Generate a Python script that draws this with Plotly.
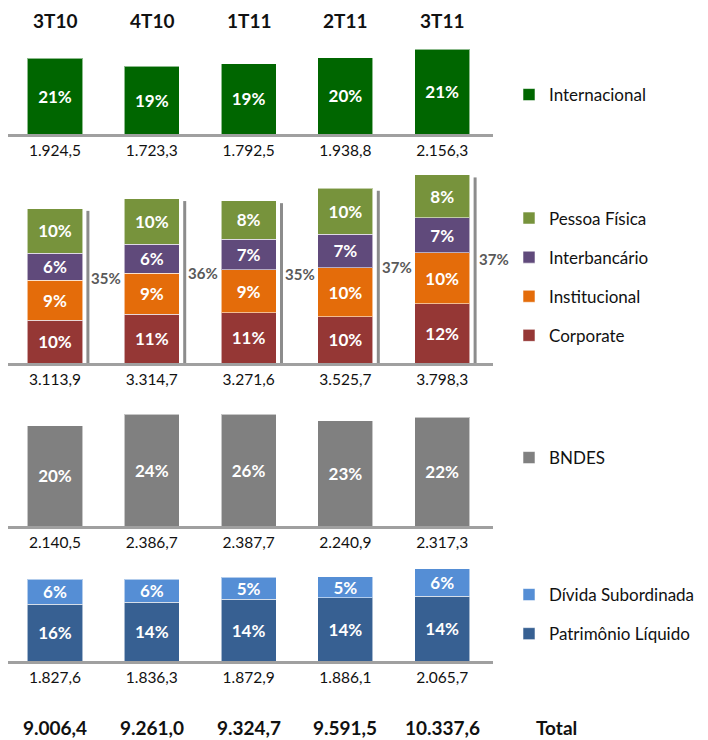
import plotly.graph_objects as go

# ---------------- data ----------------
quarters = ["3T10", "4T10", "1T11", "2T11", "3T11"]
totals = [9006.4, 9261.0, 9324.7, 9591.5, 10337.6]

internacional = [1924.5, 1723.3, 1792.5, 1938.8, 2156.3]
internacional_pct = ["21%", "19%", "19%", "20%", "21%"]

captacao_total = [3113.9, 3314.7, 3271.6, 3525.7, 3798.3]
corporate = [864.0, 980.0, 1015.0, 928.0, 1196.0]
institucional = [800.0, 831.0, 866.0, 995.0, 1027.0]
interbancario = [546.0, 584.0, 615.0, 676.0, 703.0]
pessoa_fisica = [903.9, 919.7, 775.6, 926.7, 872.3]
corporate_pct = ["10%", "11%", "11%", "10%", "12%"]
institucional_pct = ["9%", "9%", "9%", "10%", "10%"]
interbancario_pct = ["6%", "6%", "7%", "7%", "7%"]
pessoa_fisica_pct = ["10%", "10%", "8%", "10%", "8%"]
captacao_pct = ["35%", "36%", "35%", "37%", "37%"]

bndes = [2140.5, 2386.7, 2387.7, 2240.9, 2317.3]
bndes_pct = ["20%", "24%", "26%", "23%", "22%"]

patrimonio_total = [1827.6, 1836.3, 1872.9, 1886.1, 2065.7]
patrimonio_liquido = [1277.6, 1316.3, 1382.9, 1413.1, 1456.7]
divida_subordinada = [550.0, 520.0, 490.0, 473.0, 609.0]
patrimonio_liquido_pct = ["16%", "14%", "14%", "14%", "14%"]
divida_subordinada_pct = ["6%", "6%", "5%", "5%", "6%"]


def br(v):
    s = f"{v:,.1f}"
    return s.replace(",", "X").replace(".", ",").replace("X", ".")


FONT = "Lato"
W, H = 700, 732          # figure size (page adds an 8px body margin)
OFF = 8
xs = list(range(len(quarters)))


def sy(px):  # screen y pixel -> paper y
    return 1 - (px - OFF) / H


def sx(px):  # screen x pixel -> paper x
    return (px - OFF) / W


fig = go.Figure()


def bar(y, text, color, name, xa, ya, legend, rank):
    fig.add_trace(go.Bar(
        x=xs, y=y, text=text, name=name, xaxis=xa, yaxis=ya,
        marker=dict(color=color, line=dict(color="rgba(255,255,255,0.55)", width=1)),
        textposition="inside", insidetextanchor="middle", textangle=0,
        constraintext="none",
        textfont=dict(family=FONT, size=17, color="white", weight="bold"),
        legend=legend, legendgroup=name, legendrank=rank,
        hoverinfo="skip",
    ))


bar(internacional, internacional_pct, "#006600", "Internacional", "x", "y", "legend", 1)

bar(corporate, corporate_pct, "#953735", "Corporate", "x2", "y2", "legend2", 4)
bar(institucional, institucional_pct, "#E46C0A", "Institucional", "x2", "y2", "legend2", 3)
bar(interbancario, interbancario_pct, "#604A7B", "Interbancário", "x2", "y2", "legend2", 2)
bar(pessoa_fisica, pessoa_fisica_pct, "#77933C", "Pessoa Física", "x2", "y2", "legend2", 1)

bar(bndes, bndes_pct, "#808080", "BNDES", "x3", "y3", "legend3", 1)

bar(patrimonio_liquido, patrimonio_liquido_pct, "#376092", "Patrimônio Líquido", "x4", "y4", "legend4", 2)
bar(divida_subordinada, divida_subordinada_pct, "#558ED5", "Dívida Subordinada", "x4", "y4", "legend4", 1)

PX_PER_CAT = 96.8
xdom = [0, sx(493)]
x_lo = -(55 - OFF) / PX_PER_CAT
xrange = [x_lo, x_lo + (493 - OFF) / PX_PER_CAT]

panels = [
    # (suffix, baseline screen px, top screen px, px per unit, label values)
    ("", 134, 40, 0.0393, internacional),
    ("2", 363, 165, 0.0496, captacao_total),
    ("3", 526, 405, 0.0469, bndes),
    ("4", 661, 560, 0.0446, patrimonio_total),
]

lay = dict(
    width=W, height=H,
    margin=dict(l=0, r=0, t=0, b=0),
    paper_bgcolor="white", plot_bgcolor="white",
    barmode="stack", bargap=0.43,
    font=dict(family=FONT, color="#111"),
    showlegend=True,
)
for suf, base, top, scale, vals in panels:
    lay["xaxis" + suf] = dict(
        domain=xdom, range=xrange, anchor="y" + suf,
        tickvals=xs, ticktext=[br(v) for v in vals],
        tickfont=dict(family=FONT, size=15.5, color="#111"),
        showline=True, linecolor="#A0A0A0", linewidth=3,
        showgrid=False, zeroline=False, ticks="", fixedrange=True,
    )
    lay["yaxis" + suf] = dict(
        domain=[sy(base), sy(top)], range=[0, (base - top) / scale],
        anchor="x" + suf, showgrid=False, zeroline=False,
        showticklabels=False, showline=False, fixedrange=True,
    )

leg_common = dict(
    xanchor="left", yanchor="middle", bgcolor="rgba(0,0,0,0)",
    font=dict(family=FONT, size=17, color="#111"),
    traceorder="grouped", tracegroupgap=14, itemclick=False,
)
LEG_X = sx(509)
lay["legend"] = dict(x=LEG_X, y=sy(95), **leg_common)
lay["legend2"] = dict(x=LEG_X, y=sy(277), **leg_common)
lay["legend3"] = dict(x=LEG_X, y=sy(458), **leg_common)
lay["legend4"] = dict(x=LEG_X, y=sy(614.5), **leg_common)

fig.update_layout(**lay)

bold19 = dict(family=FONT, size=19, color="#111", weight="bold")

# header labels (quarters)
for i, q in enumerate(quarters):
    fig.add_annotation(x=i, y=sy(21), xref="x", yref="paper", yanchor="middle",
                       text=q, showarrow=False, font=bold19)

# totals row
for i, t in enumerate(totals):
    fig.add_annotation(x=i, y=sy(727), xref="x4", yref="paper", yanchor="middle",
                       text=br(t), showarrow=False, font=bold19)
fig.add_annotation(x=sx(534), y=sy(727), xref="paper", yref="paper",
                   xanchor="left", yanchor="middle",
                   text="Total", showarrow=False, font=bold19)

# brackets with the share of the stacked group
for i, (tot, pct) in enumerate(zip(captacao_total, captacao_pct)):
    fig.add_shape(type="line", xref="x2", yref="y2",
                  x0=i + 0.34, x1=i + 0.34, y0=0, y1=tot * 0.985,
                  line=dict(color="#8C8C8C", width=3))
    fig.add_annotation(x=i + 0.355, y=tot * 0.55, xref="x2", yref="y2",
                       text=pct, showarrow=False, xanchor="left",
                       font=dict(family=FONT, size=15, color="#595959", weight="bold"))

fig.write_html("out.html")
